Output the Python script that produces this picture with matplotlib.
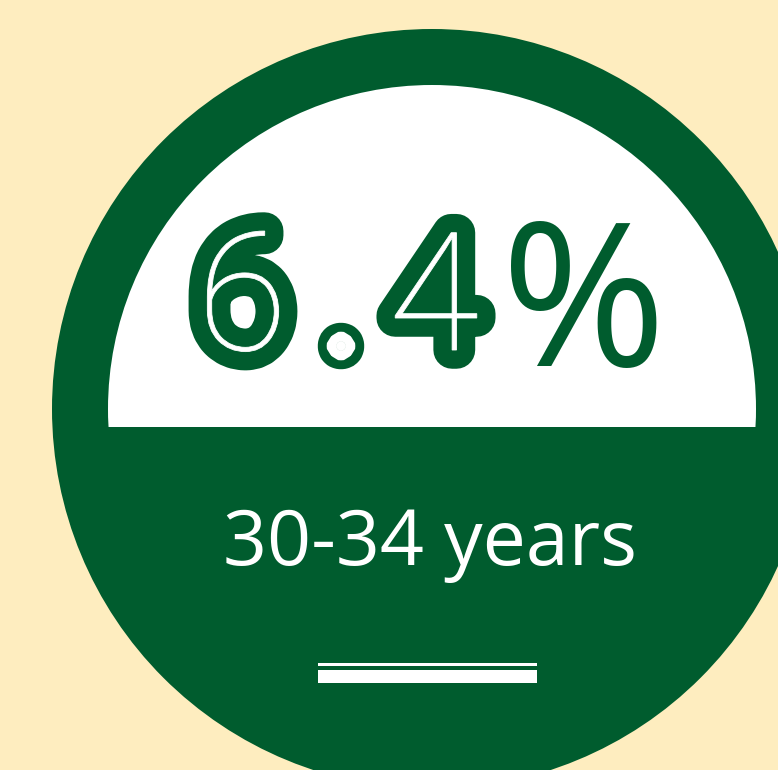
import matplotlib
matplotlib.use("Agg")
import matplotlib.pyplot as plt
from matplotlib import font_manager
from matplotlib.patches import Circle, Rectangle, PathPatch
from matplotlib.textpath import TextPath
from matplotlib.transforms import Affine2D

# stat card values
share_value = 6.4
share_unit = "%"
age_group = "30-34 years"

GREEN = "#005C2E"
CREAM = "#FEEDBF"
WHITE = "#FFFFFF"


def face_weight(f):
    return f.weight if isinstance(f.weight, int) else font_manager.weight_dict.get(f.weight, 400)


def thin_face(families, max_weight=250):
    """Font file of the lightest upright face, taking families in order."""
    for fam in families:
        faces = [f for f in font_manager.fontManager.ttflist
                 if f.name == fam and f.style == "normal"]
        if faces:
            best = min(faces, key=face_weight)
            if face_weight(best) <= max_weight:
                return best.fname
    return None


fig = plt.figure(figsize=(7.78, 7.70), dpi=100)
fig.patch.set_facecolor(CREAM)
ax = fig.add_axes([0, 0, 1, 1])
ax.set_xlim(0, 778)
ax.set_ylim(770, 0)
ax.set_aspect("equal")
ax.axis("off")

# green badge with a white cap above the divider line
cx, cy = 432, 409
ax.add_patch(Circle((cx, cy), 380, facecolor=GREEN, edgecolor="none"))
cap = Circle((cx, cy), 324, facecolor=WHITE, edgecolor="none")
ax.add_patch(cap)
cap.set_clip_path(Rectangle((0, 0), 778, 427, transform=ax.transData))

# big number: hairline glyphs as a white inline inside a heavy green body
thin = thin_face(["Roboto", "Lato", "Inter", "Open Sans", "Noto Sans", "DejaVu Sans"])
num_fp = font_manager.FontProperties(fname=thin) if thin else \
    font_manager.FontProperties(family="DejaVu Sans", weight="light")
num_px = 165
num_str = f"{share_value}"
for ch, x in zip(num_str, [243, 341, 436]):
    tp = TextPath((0, 0), ch, size=num_px, prop=num_fp)
    ext = tp.get_extents()
    # flip y (axis runs downward) and centre glyph ink on x, sitting on baseline 350
    tr = Affine2D().translate(-(ext.x0 + ext.x1) / 2, 0).scale(1, -1).translate(x, 350)
    path = tr.transform_path(tp)
    ax.add_patch(PathPatch(path, facecolor=GREEN, edgecolor=GREEN, lw=27,
                           joinstyle="round", zorder=3))
    ax.add_patch(PathPatch(path, facecolor=WHITE, edgecolor=WHITE, lw=0.6, zorder=4))

ax.text(584, 366, share_unit, family=["Open Sans", "DejaVu Sans"], fontsize=144,
        color=GREEN, ha="center", va="baseline", zorder=3)

# age group label
ax.text(430.5, 565, age_group, family=["Open Sans", "DejaVu Sans"], fontsize=55.5,
        color=WHITE, ha="center", va="baseline", zorder=3)

# double rule under the label
ax.add_patch(Rectangle((318, 662.7), 219.4, 3, facecolor=WHITE, edgecolor="none"))
ax.add_patch(Rectangle((318, 670.3), 219.4, 13, facecolor=WHITE, edgecolor="none"))

fig.savefig("out.png", dpi=100, facecolor=CREAM)
